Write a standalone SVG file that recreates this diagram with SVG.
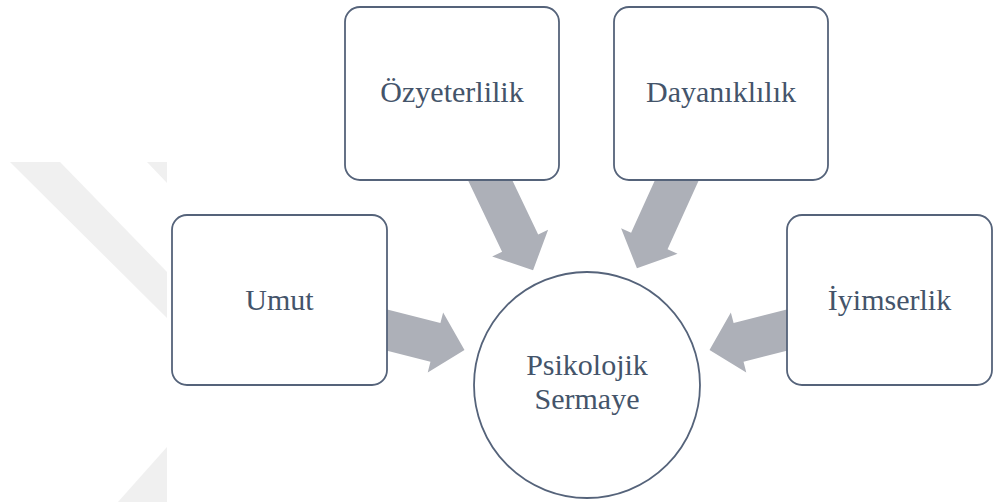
<svg xmlns="http://www.w3.org/2000/svg" width="993" height="502" viewBox="0 0 993 502">
  <defs>
    <style>
      .box { fill: #ffffff; stroke: #55637a; stroke-width: 1.8; }
      .hub { fill: #ffffff; stroke: #55637a; stroke-width: 1.8; }
      .label { font-family: 'Liberation Serif', 'DejaVu Serif', serif; font-size: 30px; fill: #44546a; text-anchor: middle; }
      .arrow { fill: #adb0b8; }
      .mark { fill: #f0f0f0; }
    </style>
  </defs>

  <rect width="993" height="502" fill="#ffffff"/>

  <!-- faint background mark on the left -->
  <g id="backdrop">
    <polygon class="mark" points="10,162 60,162 167,272 167,318"/>
    <polygon class="mark" points="147,162 167,162 167,183"/>
    <polygon class="mark" points="167,447 167,502 118,502"/>
  </g>

  <!-- block arrows pointing at the central circle -->
  <g id="connectors">
    <polygon class="arrow" transform="translate(387,330) rotate(14.4)" points="-12,-20 50,-20 50,-31 80,0 50,31 50,20 -12,20"/>
    <polygon class="arrow" transform="translate(787,330) rotate(165.6)" points="-12,-20 50,-20 50,-31 80,0 50,31 50,20 -12,20"/>
    <polygon class="arrow" transform="translate(490,180) rotate(64.5)" points="-12,-20 70,-20 70,-31 100,0 70,31 70,20 -12,20"/>
    <polygon class="arrow" transform="translate(677,180) rotate(114.4)" points="-12,-20 67,-20 67,-31 97,0 67,31 67,20 -12,20"/>
  </g>

  <g id="node-umut">
    <rect class="box" x="172" y="215" width="215" height="170" rx="15" ry="15"/>
    <text class="label" x="279.5" y="310">Umut</text>
  </g>

  <g id="node-ozyeterlilik">
    <rect class="box" x="345" y="7" width="214" height="173" rx="15" ry="15"/>
    <text class="label" x="452" y="102">Özyeterlilik</text>
  </g>

  <g id="node-dayaniklilik">
    <rect class="box" x="614" y="7" width="214" height="173" rx="15" ry="15"/>
    <text class="label" x="721" y="102">Dayanıklılık</text>
  </g>

  <g id="node-iyimserlik">
    <rect class="box" x="787" y="215" width="205" height="170" rx="15" ry="15"/>
    <text class="label" x="889.5" y="310">İyimserlik</text>
  </g>

  <g id="node-psikolojik-sermaye">
    <circle class="hub" cx="587" cy="385" r="113"/>
    <text class="label" x="587" y="375">Psikolojik</text>
    <text class="label" x="587" y="409">Sermaye</text>
  </g>
</svg>
